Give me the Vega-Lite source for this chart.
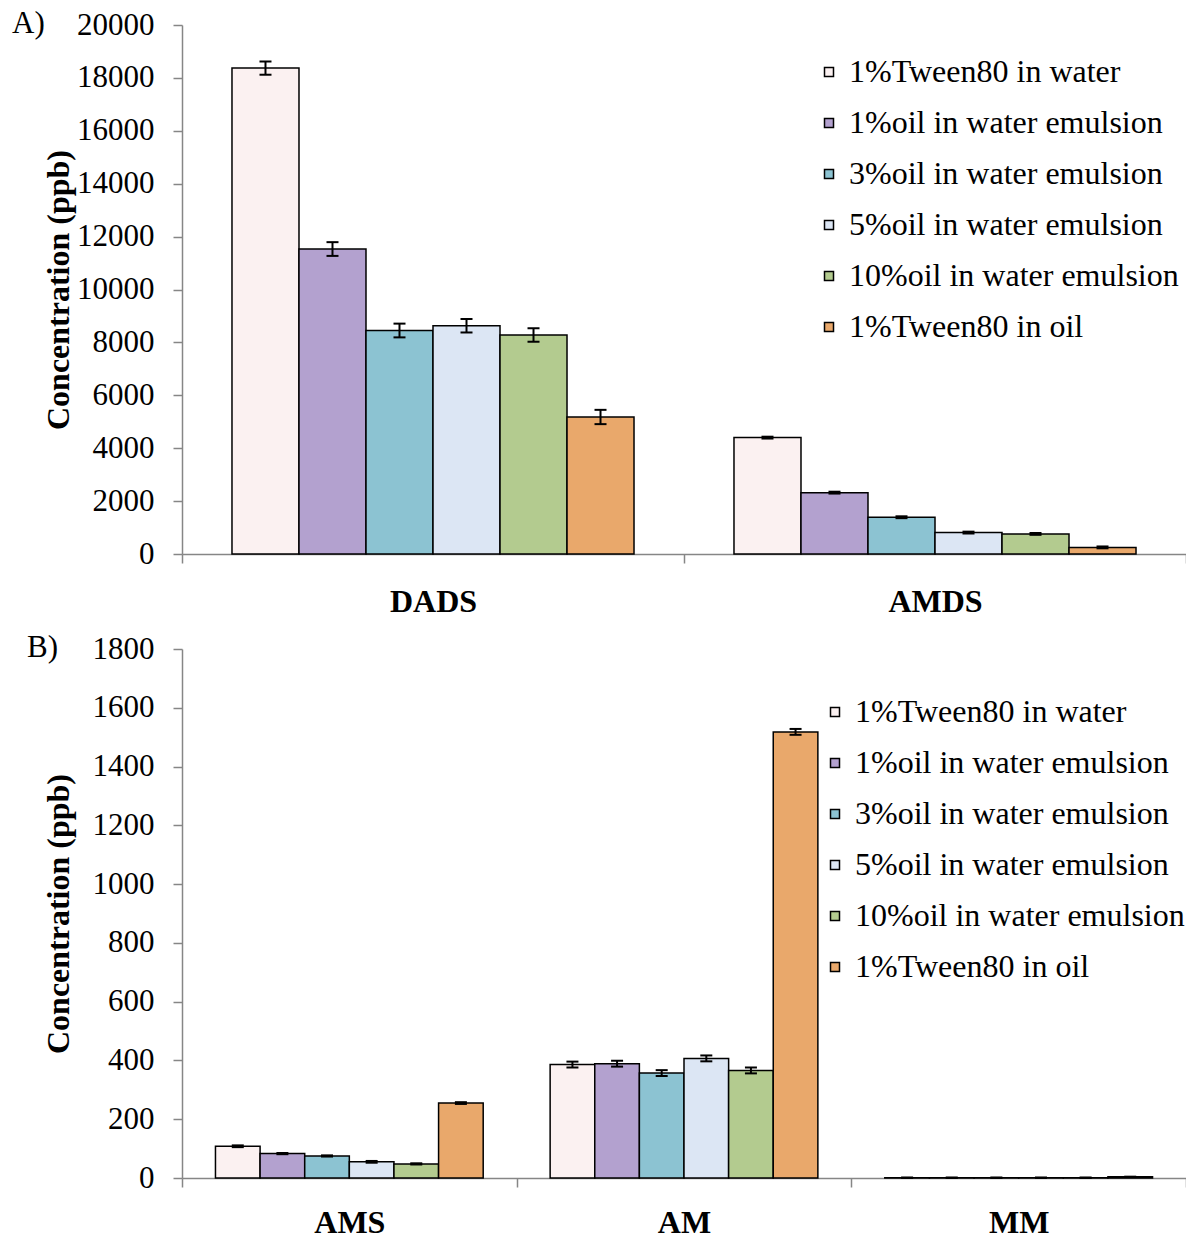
{
  "$schema": "https://vega.github.io/schema/vega-lite/v6.json",
  "padding": {"left": 12, "top": 8, "right": 0, "bottom": 0},
  "bounds": "flush",
  "spacing": 95,
  "config": {
    "view": {"stroke": null},
    "font": "Liberation Serif",
    "axis": {"domainColor": "#868686", "tickColor": "#868686", "domainWidth": 1.5, "tickWidth": 1.5, "grid": false, "labelColor": "black", "titleColor": "black", "labelFont": "Liberation Serif", "titleFont": "Liberation Serif"},
    "legend": {"labelFont": "Liberation Serif", "labelColor": "black", "padding": 0}
  },
  "resolve": {
    "scale": {"color": "independent", "x": "independent", "xOffset": "independent", "y": "independent"},
    "axis": {"x": "independent", "y": "independent"},
    "legend": {"color": "independent"}
  },
  "datasets": {
    "a": [
      {"compound": "DADS", "formulation": "1%Tween80 in water", "value": 18370, "lo": 18120, "hi": 18620},
      {"compound": "DADS", "formulation": "1%oil in water emulsion", "value": 11530, "lo": 11270, "hi": 11790},
      {"compound": "DADS", "formulation": "3%oil in water emulsion", "value": 8450, "lo": 8190, "hi": 8710},
      {"compound": "DADS", "formulation": "5%oil in water emulsion", "value": 8630, "lo": 8375, "hi": 8885},
      {"compound": "DADS", "formulation": "10%oil in water emulsion", "value": 8280, "lo": 8025, "hi": 8535},
      {"compound": "DADS", "formulation": "1%Tween80 in oil", "value": 5180, "lo": 4910, "hi": 5450},
      {"compound": "AMDS", "formulation": "1%Tween80 in water", "value": 4400, "lo": 4365, "hi": 4435},
      {"compound": "AMDS", "formulation": "1%oil in water emulsion", "value": 2320, "lo": 2285, "hi": 2355},
      {"compound": "AMDS", "formulation": "3%oil in water emulsion", "value": 1390, "lo": 1355, "hi": 1425},
      {"compound": "AMDS", "formulation": "5%oil in water emulsion", "value": 810, "lo": 775, "hi": 845},
      {"compound": "AMDS", "formulation": "10%oil in water emulsion", "value": 760, "lo": 725, "hi": 795},
      {"compound": "AMDS", "formulation": "1%Tween80 in oil", "value": 250, "lo": 215, "hi": 285}
    ],
    "b": [
      {"compound": "AMS", "formulation": "1%Tween80 in water", "value": 108, "lo": 105, "hi": 111},
      {"compound": "AMS", "formulation": "1%oil in water emulsion", "value": 83, "lo": 81, "hi": 85},
      {"compound": "AMS", "formulation": "3%oil in water emulsion", "value": 75, "lo": 73, "hi": 77},
      {"compound": "AMS", "formulation": "5%oil in water emulsion", "value": 55, "lo": 52, "hi": 58},
      {"compound": "AMS", "formulation": "10%oil in water emulsion", "value": 48, "lo": 46, "hi": 50},
      {"compound": "AMS", "formulation": "1%Tween80 in oil", "value": 255, "lo": 252, "hi": 258},
      {"compound": "AM", "formulation": "1%Tween80 in water", "value": 386, "lo": 376, "hi": 396},
      {"compound": "AM", "formulation": "1%oil in water emulsion", "value": 389, "lo": 379, "hi": 399},
      {"compound": "AM", "formulation": "3%oil in water emulsion", "value": 357, "lo": 347, "hi": 367},
      {"compound": "AM", "formulation": "5%oil in water emulsion", "value": 407, "lo": 397, "hi": 417},
      {"compound": "AM", "formulation": "10%oil in water emulsion", "value": 366, "lo": 356, "hi": 376},
      {"compound": "AM", "formulation": "1%Tween80 in oil", "value": 1518, "lo": 1508, "hi": 1528},
      {"compound": "MM", "formulation": "1%Tween80 in water", "value": 1, "lo": 0.5, "hi": 1.5},
      {"compound": "MM", "formulation": "1%oil in water emulsion", "value": 1, "lo": 0.5, "hi": 1.5},
      {"compound": "MM", "formulation": "3%oil in water emulsion", "value": 1, "lo": 0.5, "hi": 1.5},
      {"compound": "MM", "formulation": "5%oil in water emulsion", "value": 1, "lo": 0.5, "hi": 1.5},
      {"compound": "MM", "formulation": "10%oil in water emulsion", "value": 1, "lo": 0.5, "hi": 1.5},
      {"compound": "MM", "formulation": "1%Tween80 in oil", "value": 4, "lo": 3.5, "hi": 4.5}
    ]
  },
  "vconcat": [
    {
      "width": 1004,
      "height": 529,
      "title": {"text": "A)", "anchor": "start", "frame": "group", "dx": -170, "dy": 31, "offset": -15, "baseline": "middle", "fontSize": 31, "fontWeight": "normal", "font": "Liberation Serif", "color": "black"},
      "data": {"name": "a"},
      "encoding": {
        "x": {"field": "compound", "type": "nominal", "sort": ["DADS", "AMDS"], "scale": {"paddingInner": 0, "paddingOuter": 0},
              "axis": {"title": null, "labelAngle": 0, "labelFontSize": 32, "labelFontWeight": "bold", "tickBand": "extent", "tickSize": 9, "labelPadding": 23}},
        "xOffset": {"field": "formulation", "type": "nominal",
                    "sort": ["1%Tween80 in water", "1%oil in water emulsion", "3%oil in water emulsion", "5%oil in water emulsion", "10%oil in water emulsion", "1%Tween80 in oil"],
                    "scale": {"paddingOuter": 0.746, "paddingInner": 0}}
      },
      "layer": [
        {
          "mark": {"type": "bar", "stroke": "black", "strokeWidth": 1.5, "opacity": 1},
          "encoding": {
            "y": {"field": "value", "type": "quantitative", "scale": {"domain": [0, 20000]},
                  "axis": {"title": "Concentration (ppb)", "values": [0, 2000, 4000, 6000, 8000, 10000, 12000, 14000, 16000, 18000, 20000], "format": "d", "labelFontSize": 31, "titleFontSize": 32, "titleFontWeight": "bold", "titleX": -124, "titleBaseline": "middle", "tickSize": 9, "labelPadding": 19}},
            "color": {"field": "formulation", "type": "nominal",
                      "scale": {"domain": ["1%Tween80 in water", "1%oil in water emulsion", "3%oil in water emulsion", "5%oil in water emulsion", "10%oil in water emulsion", "1%Tween80 in oil"],
                                "range": ["#fbf1f1", "#b3a1cf", "#8cc3d2", "#dce6f4", "#b3cb8f", "#e9a86b"]},
                      "legend": {"title": null, "orient": "none", "legendX": 631, "legendY": 31, "labelFontSize": 32, "symbolType": "square", "symbolSize": 81, "symbolStrokeColor": "black", "symbolStrokeWidth": 1.5, "symbolOpacity": 1, "rowPadding": 19, "labelOffset": 4, "labelLimit": 0}}
          }
        },
        {
          "mark": {"type": "rule", "color": "black", "strokeWidth": 2},
          "encoding": {"y": {"field": "lo", "type": "quantitative"}, "y2": {"field": "hi"}}
        },
        {
          "mark": {"type": "tick", "color": "black", "thickness": 2, "size": 12, "opacity": 1},
          "encoding": {"y": {"field": "lo", "type": "quantitative"}}
        },
        {
          "mark": {"type": "tick", "color": "black", "thickness": 2, "size": 12, "opacity": 1},
          "encoding": {"y": {"field": "hi", "type": "quantitative"}}
        }
      ]
    },
    {
      "width": 1004,
      "height": 529,
      "title": {"text": "B)", "anchor": "start", "frame": "group", "dx": -155, "dy": 31, "offset": -15, "baseline": "middle", "fontSize": 31, "fontWeight": "normal", "font": "Liberation Serif", "color": "black"},
      "data": {"name": "b"},
      "encoding": {
        "x": {"field": "compound", "type": "nominal", "sort": ["AMS", "AM", "MM"], "scale": {"paddingInner": 0, "paddingOuter": 0},
              "axis": {"title": null, "labelAngle": 0, "labelFontSize": 32, "labelFontWeight": "bold", "tickBand": "extent", "tickSize": 9, "labelPadding": 20}},
        "xOffset": {"field": "formulation", "type": "nominal",
                    "sort": ["1%Tween80 in water", "1%oil in water emulsion", "3%oil in water emulsion", "5%oil in water emulsion", "10%oil in water emulsion", "1%Tween80 in oil"],
                    "scale": {"paddingOuter": 0.75, "paddingInner": 0}}
      },
      "layer": [
        {
          "mark": {"type": "bar", "stroke": "black", "strokeWidth": 1.5, "opacity": 1},
          "encoding": {
            "y": {"field": "value", "type": "quantitative", "scale": {"domain": [0, 1800]},
                  "axis": {"title": "Concentration (ppb)", "values": [0, 200, 400, 600, 800, 1000, 1200, 1400, 1600, 1800], "format": "d", "labelFontSize": 31, "titleFontSize": 32, "titleFontWeight": "bold", "titleX": -124, "titleBaseline": "middle", "tickSize": 9, "labelPadding": 19}},
            "color": {"field": "formulation", "type": "nominal",
                      "scale": {"domain": ["1%Tween80 in water", "1%oil in water emulsion", "3%oil in water emulsion", "5%oil in water emulsion", "10%oil in water emulsion", "1%Tween80 in oil"],
                                "range": ["#fbf1f1", "#b3a1cf", "#8cc3d2", "#dce6f4", "#b3cb8f", "#e9a86b"]},
                      "legend": {"title": null, "orient": "none", "legendX": 637, "legendY": 47, "labelFontSize": 32, "symbolType": "square", "symbolSize": 81, "symbolStrokeColor": "black", "symbolStrokeWidth": 1.5, "symbolOpacity": 1, "rowPadding": 19, "labelOffset": 4, "labelLimit": 0}}
          }
        },
        {
          "mark": {"type": "rule", "color": "black", "strokeWidth": 2},
          "encoding": {"y": {"field": "lo", "type": "quantitative"}, "y2": {"field": "hi"}}
        },
        {
          "mark": {"type": "tick", "color": "black", "thickness": 2, "size": 12, "opacity": 1},
          "encoding": {"y": {"field": "lo", "type": "quantitative"}}
        },
        {
          "mark": {"type": "tick", "color": "black", "thickness": 2, "size": 12, "opacity": 1},
          "encoding": {"y": {"field": "hi", "type": "quantitative"}}
        }
      ]
    }
  ]
}
